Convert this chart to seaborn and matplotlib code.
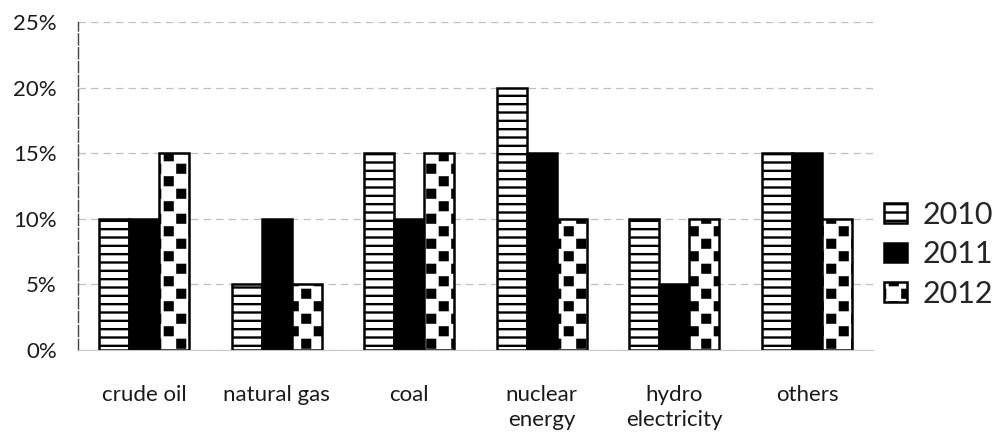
#!/usr/bin/env python3

import warnings
import numpy as np
import pandas as pd
import matplotlib
matplotlib.use("Agg")
import matplotlib.pyplot as plt
import matplotlib.hatch as mhatch
import matplotlib.patches as mpatches
import matplotlib.ticker as ticker
from matplotlib.path import Path
import seaborn as sns

warnings.filterwarnings("ignore")

categories = [
    "crude oil",
    "natural gas",
    "coal",
    "nuclear\nenergy",
    "hydro\nelectricity",
    "others",
]
years = ["2010", "2011", "2012"]
share_2010 = [10, 5, 15, 20, 10, 15]
share_2011 = [10, 10, 10, 15, 5, 15]
share_2012 = [15, 5, 15, 10, 10, 10]
y_ticks = [0, 5, 10, 15, 20, 25]
y_tick_labels = ["0%", "5%", "10%", "15%", "20%", "25%"]


class CheckerHatch(mhatch.HatchPatternBase):
    # filled checkerboard squares, switched on by a "c" in the hatch string
    cells = 8
    fill = 0.62

    def __init__(self, hatch, density):
        self.num_vertices = 0
        if "c" in hatch:
            self.num_vertices = self.cells * self.cells // 2 * 5

    def set_vertices_and_codes(self, vertices, codes):
        step = 1.0 / self.cells
        side = step * self.fill
        pad = (step - side) / 2
        square = np.array([[0, 0], [side, 0], [side, side], [0, side], [0, 0]])
        parts = []
        for i in range(self.cells):
            for j in range(self.cells):
                if (i + j) % 2 == 0:
                    parts.append(square + [i * step + pad, j * step + pad])
        vertices[:] = np.concatenate(parts)
        codes[:] = np.tile(
            [Path.MOVETO, Path.LINETO, Path.LINETO, Path.LINETO, Path.CLOSEPOLY],
            len(parts),
        )


mhatch._hatch_types.append(CheckerHatch)

sns.set_style("white")
plt.rcParams["font.family"] = ["Lato", "DejaVu Sans"]
plt.rcParams["hatch.linewidth"] = 1.7
plt.rcParams["hatch.color"] = "black"

styles = {
    "2010": dict(facecolor="white", hatch="--"),
    "2011": dict(facecolor="black", hatch=None),
    "2012": dict(facecolor="white", hatch="c"),
}

df = pd.DataFrame(
    {
        "source": categories * 3,
        "year": [y for y in years for _ in categories],
        "share": share_2010 + share_2011 + share_2012,
    }
)

fig = plt.figure(figsize=(9.98, 4.4), dpi=100)
ax = fig.add_axes([0.078, 0.2045, 0.797, 0.7455])

sns.barplot(
    data=df,
    x="source",
    y="share",
    hue="year",
    order=categories,
    hue_order=years,
    palette=["white", "black", "white"],
    width=0.68,
    errorbar=None,
    legend=False,
    ax=ax,
)

for year, bars in zip(years, ax.containers):
    for bar in bars:
        bar.set_facecolor(styles[year]["facecolor"])
        bar.set_edgecolor("black")
        bar.set_linewidth(1.8)
        bar.set_hatch(styles[year]["hatch"])

ax.set_xlim(-0.5, len(categories) - 0.5)
ax.set_ylim(0, 25)
ax.set_yticks(y_ticks)
ax.set_yticklabels(y_tick_labels)
ax.yaxis.grid(True, linestyle=(0, (6, 4)), color="#c0c0c0", linewidth=0.9)
ax.set_axisbelow(True)
ax.set_xlabel("")
ax.set_ylabel("")

for side in ["top", "right"]:
    ax.spines[side].set_visible(False)
ax.spines["left"].set_color("#444444")
ax.spines["left"].set_linewidth(1.0)
ax.spines["left"].set_linestyle((0, (8, 2)))
ax.spines["bottom"].set_color("#c8c8c8")
ax.spines["bottom"].set_linewidth(0.8)

ax.xaxis.set_minor_locator(ticker.FixedLocator(np.arange(0.5, len(categories) - 1, 1.0)))
ax.tick_params(axis="x", which="major", length=0, pad=25, labelsize=16, colors="#1a1a1a")
ax.tick_params(axis="x", which="minor", length=6, direction="inout", color="#aaaaaa")
ax.tick_params(axis="y", length=0, pad=15, labelsize=16, colors="#1a1a1a")
for label in ax.get_xticklabels():
    label.set_linespacing(1.3)

handles = [
    mpatches.Patch(
        facecolor=styles[y]["facecolor"],
        edgecolor="black",
        hatch=styles[y]["hatch"],
        linewidth=1.8,
        label=y,
    )
    for y in years
]
fig.legend(
    handles=handles,
    loc="center left",
    bbox_to_anchor=(0.886, 0.422),
    frameon=False,
    fontsize=22,
    borderpad=0,
    borderaxespad=0,
    handlelength=0.75,
    handleheight=0.62,
    handletextpad=0.5,
    labelspacing=0.38,
)

fig.savefig("out.png", dpi=100)
